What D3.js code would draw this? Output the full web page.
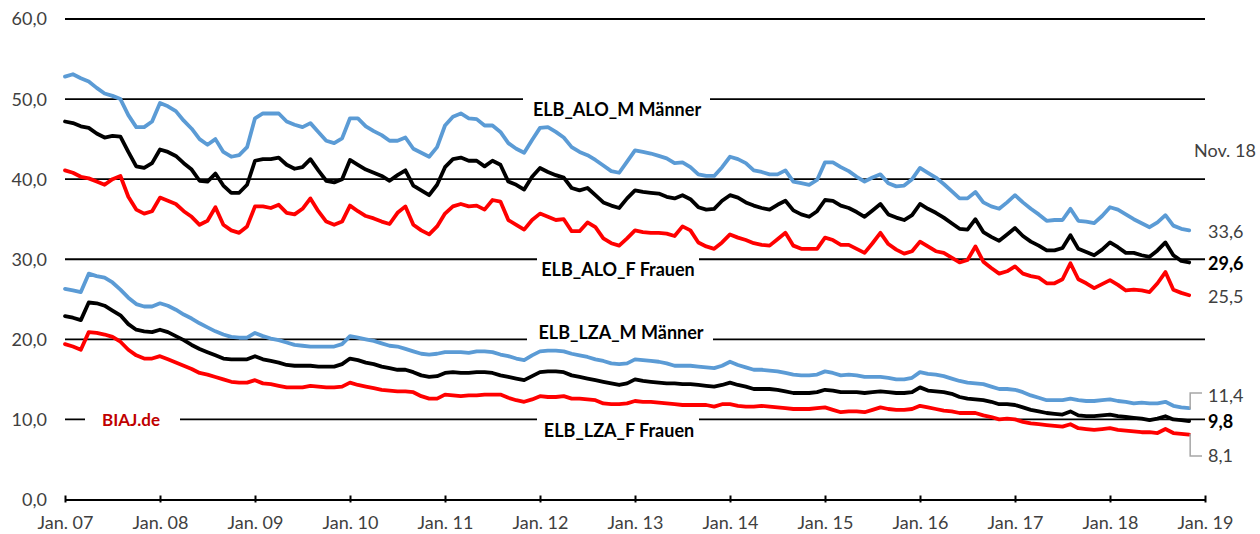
<!DOCTYPE html>
<html>
<head>
<meta charset="utf-8">
<script src="https://cdn.jsdelivr.net/npm/d3@7"></script>
<style>
  body { margin: 0; background: #fff; }
  svg { display: block; font-family: Lato, "Open Sans", sans-serif; }
</style>
</head>
<body>
<div id="chart"></div>
<script>
// month index 0 = Jan. 07 ... 142 = Nov. 18
var xLabels = ["Jan. 07", "Jan. 08", "Jan. 09", "Jan. 10", "Jan. 11", "Jan. 12", "Jan. 13",
               "Jan. 14", "Jan. 15", "Jan. 16", "Jan. 17", "Jan. 18", "Jan. 19"];
var yTicks = [0, 10, 20, 30, 40, 50, 60];

// ELB_ALO_M Männer
var aloM = [
  52.8, 53.1, 52.6, 52.2, 51.4, 50.7, 50.4, 50.0, 48.0, 46.5, 46.5, 47.2,
  49.5, 49.1, 48.5, 47.3, 46.3, 45.0, 44.3, 45.0, 43.4, 42.8, 43.0, 44.0,
  47.6, 48.2, 48.2, 48.2, 47.2, 46.8, 46.5, 47.0, 45.9, 44.8, 44.5, 45.1,
  47.6, 47.6, 46.6, 46.0, 45.5, 44.8, 44.8, 45.2, 43.8, 43.3, 42.8, 44.0,
  46.7, 47.8, 48.2, 47.6, 47.5, 46.7, 46.7, 45.9, 44.5, 43.8, 43.3, 44.9,
  46.4, 46.5, 45.9, 45.2, 44.0, 43.4, 43.0, 42.4, 41.7, 41.0, 40.8, 42.2,
  43.6, 43.4, 43.2, 42.9, 42.6, 42.0, 42.1, 41.5, 40.6, 40.4, 40.4, 41.5,
  42.8, 42.5, 42.0, 41.1, 40.9, 40.6, 40.6, 41.1, 39.7, 39.5, 39.3, 39.9,
  42.1, 42.1, 41.5, 41.0, 40.3, 39.7, 40.2, 40.6, 39.5, 39.1, 39.2, 40.0,
  41.4, 40.8, 40.2, 39.4, 38.5, 37.6, 37.6, 38.4, 37.1, 36.6, 36.3, 37.1,
  38.0, 37.1, 36.3, 35.6, 34.8, 34.9, 34.9, 36.3, 34.8, 34.7, 34.5, 35.4,
  36.5, 36.2, 35.6, 35.0, 34.5, 34.0, 34.6, 35.5, 34.2, 33.8, 33.6
];
// ELB_ALO gesamt
var aloT = [
  47.2, 47.0, 46.6, 46.4, 45.7, 45.2, 45.4, 45.3, 43.4, 41.6, 41.4, 42.0,
  43.7, 43.4, 42.9, 42.0, 41.2, 39.8, 39.7, 40.7, 39.2, 38.3, 38.3, 39.3,
  42.3, 42.5, 42.5, 42.7, 41.8, 41.3, 41.5, 42.5, 41.1, 39.8, 39.6, 40.0,
  42.4, 41.8, 41.2, 40.8, 40.4, 39.8, 40.5, 41.1, 39.2, 38.6, 38.0, 39.3,
  41.5, 42.5, 42.7, 42.3, 42.3, 41.6, 42.3, 41.8, 39.7, 39.3, 38.7, 40.3,
  41.4, 40.9, 40.5, 40.2, 38.9, 38.6, 38.9, 38.0, 37.1, 36.7, 36.4, 37.6,
  38.6, 38.4, 38.3, 38.2, 37.8, 37.6, 38.0, 37.5, 36.5, 36.2, 36.3, 37.3,
  38.0, 37.7, 37.1, 36.7, 36.4, 36.2, 36.8, 37.3, 36.1, 35.6, 35.3, 36.0,
  37.4, 37.3, 36.7, 36.4, 35.9, 35.3, 36.1, 36.9, 35.6, 35.2, 34.9, 35.5,
  36.9, 36.3, 35.8, 35.2, 34.5, 33.8, 33.7, 35.0, 33.4, 32.8, 32.3, 33.1,
  33.9, 32.9, 32.2, 31.7, 31.1, 31.1, 31.4, 33.0, 31.3, 30.9, 30.5, 31.2,
  32.1, 31.5, 30.8, 30.8, 30.5, 30.3, 31.1, 32.1, 30.5, 29.8, 29.6
];
// ELB_ALO_F Frauen
var aloF = [
  41.1, 40.8, 40.3, 40.1, 39.7, 39.3, 40.0, 40.4, 37.8, 36.2, 35.7, 36.0,
  37.7, 37.3, 36.9, 36.0, 35.3, 34.3, 34.8, 36.5, 34.3, 33.6, 33.3, 34.1,
  36.6, 36.6, 36.4, 36.8, 35.8, 35.6, 36.3, 37.6, 36.0, 34.7, 34.3, 34.7,
  36.7, 36.0, 35.4, 35.1, 34.7, 34.4, 35.8, 36.6, 34.3, 33.6, 33.1, 34.1,
  35.7, 36.6, 36.9, 36.6, 36.7, 36.2, 37.4, 37.2, 34.9, 34.3, 33.7, 34.9,
  35.7, 35.3, 34.9, 35.0, 33.5, 33.5, 34.6, 34.0, 32.6, 32.0, 31.7, 32.6,
  33.6, 33.4, 33.3, 33.3, 33.2, 32.9, 34.1, 33.6, 32.1, 31.6, 31.3, 32.1,
  33.1, 32.7, 32.4, 32.0, 31.8, 31.7, 32.5, 33.3, 31.7, 31.3, 31.3, 31.3,
  32.7, 32.4, 31.8, 31.8, 31.3, 30.8, 32.0, 33.3, 31.9, 31.2, 30.7, 31.0,
  32.2, 31.6, 31.0, 30.8, 30.2, 29.6, 29.9, 31.6, 29.7, 28.9, 28.2, 28.5,
  29.1, 28.2, 27.9, 27.7, 27.0, 27.0, 27.5, 29.5, 27.5, 27.0, 26.4, 26.9,
  27.4, 26.8, 26.1, 26.2, 26.1, 25.9, 27.0, 28.4, 26.2, 25.8, 25.5
];
// ELB_LZA_M Männer
var lzaM = [
  26.3, 26.1, 25.9, 28.2, 27.9, 27.7, 27.1, 26.2, 25.2, 24.4, 24.1, 24.1,
  24.5, 24.2, 23.7, 23.1, 22.6, 22.0, 21.5, 21.0, 20.6, 20.3, 20.2, 20.2,
  20.8, 20.4, 20.1, 19.9, 19.6, 19.3, 19.2, 19.1, 19.1, 19.1, 19.1, 19.4,
  20.4, 20.2, 20.0, 19.8, 19.5, 19.2, 19.1, 18.8, 18.5, 18.2, 18.1, 18.2,
  18.4, 18.4, 18.4, 18.3, 18.5, 18.5, 18.4, 18.1, 17.9, 17.6, 17.4, 18.0,
  18.5, 18.6, 18.6, 18.5, 18.2, 18.0, 17.8, 17.5, 17.3, 17.0, 16.9, 17.0,
  17.5, 17.4, 17.3, 17.2, 17.0, 16.7, 16.7, 16.7, 16.6, 16.5, 16.4, 16.7,
  17.2, 16.8, 16.5, 16.2, 16.2, 16.1, 16.0, 15.8, 15.6, 15.5, 15.5, 15.6,
  16.0, 15.8, 15.5, 15.6, 15.5, 15.3, 15.3, 15.3, 15.2, 15.0, 15.0, 15.2,
  15.9, 15.7, 15.6, 15.4, 15.1, 14.8, 14.6, 14.5, 14.4, 14.1, 13.8, 13.8,
  13.7, 13.4, 13.0, 12.7, 12.4, 12.4, 12.4, 12.6, 12.4, 12.3, 12.3, 12.4,
  12.5, 12.3, 12.2, 12.0, 12.1, 12.0, 12.0, 12.2, 11.7, 11.5, 11.4
];
// ELB_LZA gesamt
var lzaT = [
  22.9, 22.7, 22.4, 24.6, 24.5, 24.2, 23.6, 23.0, 21.9, 21.2, 21.0, 20.9,
  21.2, 20.9, 20.4, 19.9, 19.3, 18.8, 18.4, 18.0, 17.6, 17.5, 17.5, 17.5,
  17.9, 17.5, 17.3, 17.1, 16.8, 16.7, 16.7, 16.7, 16.6, 16.6, 16.6, 16.9,
  17.6, 17.4, 17.1, 16.9, 16.6, 16.4, 16.2, 16.2, 15.9, 15.5, 15.3, 15.4,
  15.8, 15.9, 15.8, 15.8, 15.9, 15.9, 15.8, 15.5, 15.3, 15.1, 14.9, 15.4,
  15.9, 16.0, 16.0, 15.9, 15.5, 15.3, 15.1, 14.9, 14.7, 14.5, 14.3, 14.5,
  15.0, 14.8, 14.7, 14.6, 14.5, 14.5, 14.4, 14.4, 14.3, 14.2, 14.1, 14.3,
  14.6, 14.3, 14.1, 13.8, 13.8, 13.8, 13.7, 13.5, 13.3, 13.3, 13.3, 13.4,
  13.7, 13.6, 13.4, 13.4, 13.4, 13.3, 13.4, 13.5, 13.4, 13.3, 13.3, 13.4,
  14.0, 13.6, 13.5, 13.4, 13.2, 12.8, 12.6, 12.5, 12.4, 12.2, 11.9, 11.9,
  11.8, 11.5, 11.2, 11.0, 10.8, 10.7, 10.6, 11.0, 10.5, 10.4, 10.4, 10.5,
  10.6, 10.4, 10.3, 10.2, 10.1, 9.9, 10.1, 10.4, 10.0, 9.9, 9.8
];
// ELB_LZA_F Frauen
var lzaF = [
  19.4, 19.1, 18.7, 20.9, 20.8, 20.6, 20.3, 19.7, 18.7, 18.0, 17.6, 17.6,
  17.9, 17.5, 17.1, 16.7, 16.3, 15.8, 15.6, 15.3, 15.0, 14.7, 14.6, 14.6,
  14.9, 14.5, 14.4, 14.2, 14.0, 14.0, 14.0, 14.2, 14.1, 14.0, 14.0, 14.1,
  14.6, 14.3, 14.1, 13.9, 13.7, 13.6, 13.5, 13.5, 13.4, 12.9, 12.6, 12.6,
  13.1, 13.0, 12.9, 13.0, 13.0, 13.1, 13.1, 13.1, 12.7, 12.4, 12.2, 12.5,
  12.9, 12.8, 12.8, 12.9, 12.6, 12.6, 12.5, 12.4, 12.0, 11.9, 11.9, 12.0,
  12.3, 12.2, 12.2, 12.1, 12.0, 11.9, 11.8, 11.8, 11.8, 11.8, 11.6, 11.9,
  11.9, 11.7, 11.6, 11.6, 11.7, 11.6, 11.5, 11.4, 11.3, 11.3, 11.3, 11.4,
  11.5, 11.2, 10.9, 11.0, 11.0, 10.9, 11.2, 11.5, 11.3, 11.2, 11.2, 11.3,
  11.7, 11.5, 11.3, 11.1, 11.0, 10.8, 10.8, 10.8, 10.5, 10.3, 10.0, 10.1,
  10.0, 9.7, 9.5, 9.4, 9.3, 9.2, 9.1, 9.4, 8.9, 8.8, 8.7, 8.8,
  8.9, 8.7, 8.6, 8.5, 8.4, 8.4, 8.3, 8.8, 8.3, 8.2, 8.1
];

var width = 1260, height = 534;
var plot = {left: 65, right: 1205, top: 19, bottom: 499.5};

var svg = d3.select("#chart")
    .append("svg")
    .attr("width", width)
    .attr("height", height);

var x = d3.scaleLinear()
    .domain([0, (xLabels.length - 1) * 12])
    .range([plot.left, plot.right]);

var y = d3.scaleLinear()
    .domain([0, 60])
    .range([plot.bottom, plot.top]);

var fmt = function (v) { return d3.format(".1f")(v).replace(".", ","); };

// grid lines
svg.append("g")
    .selectAll("line")
    .data(yTicks.filter(function (d) { return d > 0; }))
    .enter()
    .append("line")
    .attr("x1", plot.left)
    .attr("x2", plot.right)
    .attr("y1", function (d) { return y(d); })
    .attr("y2", function (d) { return y(d); })
    .attr("stroke", "#000")
    .attr("stroke-width", 1.8);

// y labels
svg.append("g")
    .selectAll("text")
    .data(yTicks)
    .enter()
    .append("text")
    .attr("x", 47)
    .attr("y", function (d) { return y(d); })
    .attr("dy", "0.36em")
    .attr("text-anchor", "end")
    .attr("font-size", 18)
    .attr("fill", "#404040")
    .text(fmt);

// x axis
var xAxis = svg.append("g")
    .attr("transform", "translate(0," + y(0) + ")")
    .call(d3.axisBottom(x)
        .tickValues(d3.range(0, xLabels.length * 12, 12))
        .tickFormat(function (d, i) { return xLabels[i]; })
        .tickSizeInner(3)
        .tickSizeOuter(0)
        .tickPadding(14));
xAxis.select(".domain").attr("stroke", "#000").attr("stroke-width", 2);
xAxis.selectAll(".tick line").attr("y1", -4).attr("stroke", "#000").attr("stroke-width", 2);
xAxis.selectAll(".tick text")
    .attr("font-family", "Lato, sans-serif")
    .attr("font-size", 18)
    .attr("fill", "#404040");

// white boxes that cut the grid lines behind the labels
var gaps = [
    {v: 50, x1: 523, x2: 710},
    {v: 30, x1: 537, x2: 699},
    {v: 20, x1: 527, x2: 713},
    {v: 10, x1: 537, x2: 699},
    {v: 10, x1: 85, x2: 180}
];
svg.append("g")
    .selectAll("rect")
    .data(gaps)
    .enter()
    .append("rect")
    .attr("x", function (d) { return d.x1; })
    .attr("width", function (d) { return d.x2 - d.x1; })
    .attr("y", function (d) { return y(d.v) - 3; })
    .attr("height", 6)
    .attr("fill", "#fff");

// series
var line = d3.line()
    .x(function (d, i) { return x(i); })
    .y(function (d) { return y(d); });

var series = [
    {values: aloM, color: "#5B9BD5"},
    {values: lzaM, color: "#5B9BD5"},
    {values: aloF, color: "#FF0000"},
    {values: lzaF, color: "#FF0000"},
    {values: aloT, color: "#000000"},
    {values: lzaT, color: "#000000"}
];
svg.append("g")
    .selectAll("path")
    .data(series)
    .enter()
    .append("path")
    .attr("d", function (d) { return line(d.values); })
    .attr("fill", "none")
    .attr("stroke", function (d) { return d.color; })
    .attr("stroke-width", 3.8)
    .attr("stroke-linejoin", "round")
    .attr("stroke-linecap", "round");

// series names
var names = [
    {text: "ELB_ALO_M Männer", x: 617, y: 116},
    {text: "ELB_ALO_F Frauen", x: 618, y: 276},
    {text: "ELB_LZA_M Männer", x: 621, y: 339},
    {text: "ELB_LZA_F Frauen", x: 619, y: 437}
];
svg.append("g")
    .selectAll("text")
    .data(names)
    .enter()
    .append("text")
    .attr("x", function (d) { return d.x; })
    .attr("y", function (d) { return d.y; })
    .attr("text-anchor", "middle")
    .attr("font-size", 18)
    .attr("font-weight", "bold")
    .attr("fill", "#000")
    .text(function (d) { return d.text; });

svg.append("text")
    .attr("x", 102)
    .attr("y", 426)
    .attr("font-size", 17)
    .attr("font-weight", "bold")
    .attr("fill", "#C00000")
    .text("BIAJ.de");

svg.append("text")
    .attr("x", 1194)
    .attr("y", 157)
    .attr("font-size", 18)
    .attr("fill", "#404040")
    .text("Nov. 18");

// end values
var last = aloM.length - 1;
var endLabels = [
    {v: aloM[last], y: 238, bold: false},
    {v: aloT[last], y: 270, bold: true},
    {v: aloF[last], y: 303, bold: false},
    {v: lzaM[last], y: 402, bold: false},
    {v: lzaT[last], y: 428, bold: true},
    {v: lzaF[last], y: 462, bold: false}
];
svg.append("g")
    .selectAll("text")
    .data(endLabels)
    .enter()
    .append("text")
    .attr("x", 1208)
    .attr("y", function (d) { return d.y; })
    .attr("font-size", 18)
    .attr("font-weight", function (d) { return d.bold ? "bold" : "normal"; })
    .attr("fill", function (d) { return d.bold ? "#000" : "#404040"; })
    .text(function (d) { return fmt(d.v); });

// leader lines for the small LZA values
var lx = x(last) + 1;
svg.append("path")
    .attr("d", "M" + lx + "," + (y(lzaM[last]) + 1) + "V393H1202")
    .attr("fill", "none")
    .attr("stroke", "#A6A6A6")
    .attr("stroke-width", 1.5);
svg.append("path")
    .attr("d", "M" + lx + "," + (y(lzaF[last]) - 1) + "V456H1202")
    .attr("fill", "none")
    .attr("stroke", "#A6A6A6")
    .attr("stroke-width", 1.5);
</script>
</body>
</html>
